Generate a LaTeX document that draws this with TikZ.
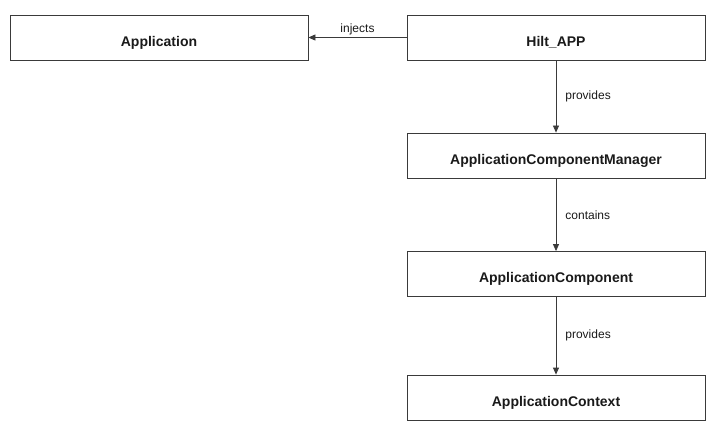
\documentclass[tikz,border=0pt]{standalone}
\usepackage{fontspec}
\setmainfont{Liberation Sans}
\usetikzlibrary{positioning,arrows.meta}
\definecolor{edge}{HTML}{3A3A3A}
\definecolor{ink}{HTML}{1A1A1A}
\tikzset{
  box/.style  = {draw=edge, fill=white, line width=0.8pt,
                 minimum width=298pt, minimum height=45pt, inner sep=0pt,
                 text height=18pt, text depth=0pt,
                 font=\fontsize{14}{16}\selectfont\bfseries, text=ink},
  rel/.style  = {-{Triangle[length=7pt,width=6pt]}, draw=edge, line width=0.8pt},
  tag/.style  = {font=\fontsize{12}{14}\selectfont, text=ink, inner sep=1pt},
}
\begin{document}
\begin{tikzpicture}[x=1pt,y=-1pt]
      \path (0,0) rectangle (720,430);
      \node[box] (app)  at (159,37.5) {Application};
      \node[box] (hilt) at (556,37.5) {Hilt\_APP};
      \node[box] (mgr)  at (556,155.5) {ApplicationComponentManager};
      \node[box] (comp) at (556,274) {ApplicationComponent};
      \node[box] (ctx)  at (556,397.5) {ApplicationContext};
      \draw[rel] (hilt) -- (app)
        node[tag,midway,above=1pt] {injects};
      \draw[rel] (hilt) -- (mgr)
        node[tag,midway,right=8pt] {provides};
      \draw[rel] (mgr) -- (comp)
        node[tag,midway,right=8pt] {contains};
      \draw[rel] (comp) -- (ctx)
        node[tag,midway,right=8pt] {provides};
    \end{tikzpicture}
\end{document}
